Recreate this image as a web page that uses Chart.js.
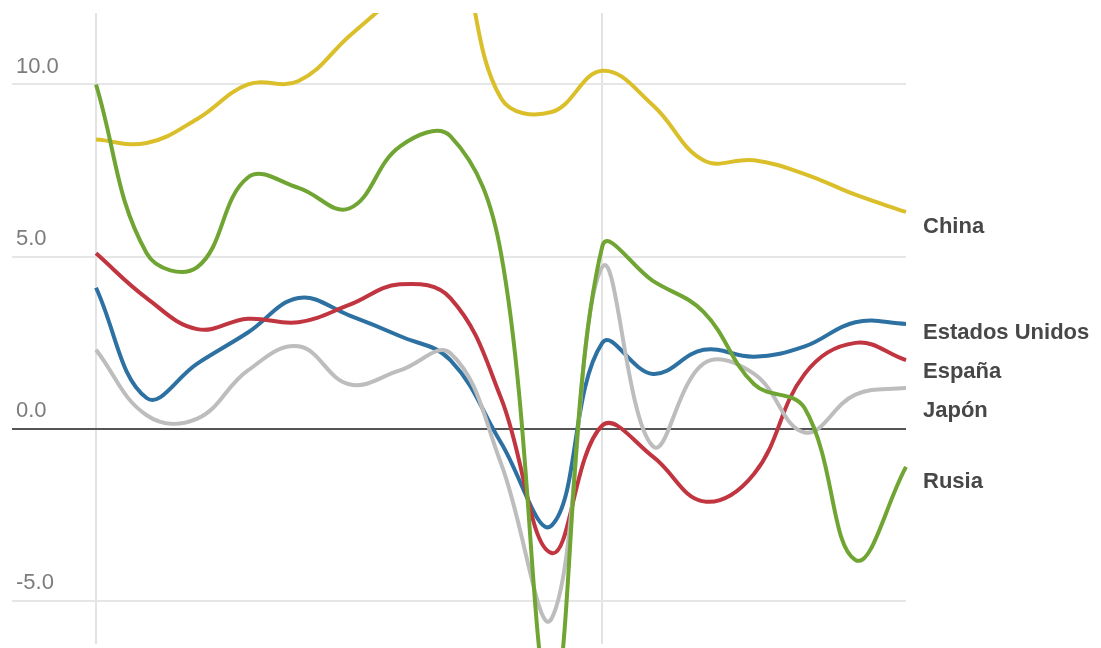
<!DOCTYPE html>
<html lang="es">
<head>
    <meta charset="UTF-8">
    <style>
        html, body { margin: 0; padding: 0; background: #fff; }
        canvas { display: block; }
    </style>
</head>

<body>
<script src="https://cdn.jsdelivr.net/npm/chart.js@4.4.1/dist/chart.umd.min.js"></script>
<canvas id="line-chart" width="1101" height="648"></canvas>
<script>

    // crecimiento del PIB (%), 2000 - 2016
    var years = [2000, 2001, 2002, 2003, 2004, 2005, 2006, 2007, 2008,
                 2009, 2010, 2011, 2012, 2013, 2014, 2015, 2016];
    var countries = ["China", "Estados Unidos", "España", "Japón", "Rusia"];
    var colors = ["#dbbf2a", "#2c71a2", "#c0353f", "#bdbdbd", "#70a533"];

    var china  = [8.4, 8.3, 9.0, 10.0, 10.1, 11.4, 12.7, 14.2, 9.6, 9.2, 10.4, 9.4, 7.8, 7.8, 7.4, 6.8, 6.3];
    var eeuu   = [4.1, 0.9, 1.9, 2.8, 3.8, 3.3, 2.7, 2.0, -0.4, -2.8, 2.5, 1.6, 2.3, 2.1, 2.4, 3.1, 3.05];
    var espana = [5.1, 3.8, 2.9, 3.2, 3.1, 3.6, 4.2, 3.8, 0.9, -3.6, 0.1, -0.8, -2.1, -1.3, 1.6, 2.5, 2.0];
    var japon  = [2.3, 0.4, 0.3, 1.7, 2.4, 1.3, 1.7, 2.2, -1.0, -5.5, 4.7, -0.5, 1.9, 1.6, -0.1, 1.0, 1.2];
    var rusia  = [10.0, 5.1, 4.7, 7.3, 7.0, 6.4, 8.2, 8.5, 5.1, -7.8, 5.3, 4.3, 3.4, 1.3, 0.6, -3.8, -1.1];

    var series = [china, eeuu, espana, japon, rusia];
    var yTicks = [-5, 0, 5, 10];
    var xGrid = [2000, 2010];

    function toPoints(values) {
        return values.map(function (v, i) { return { x: years[i], y: v }; });
    }

    // etiquetas al final de cada línea, separadas si se pisan
    var endLabels = {
        id: 'endLabels',
        afterDatasetsDraw: function (chart) {
            var ctx = chart.ctx;
            var gap = 39;
            var items = chart.data.datasets.map(function (ds, i) {
                var meta = chart.getDatasetMeta(i);
                var last = meta.data[meta.data.length - 1];
                return { text: ds.label, target: last.y + 15 };
            });
            items.sort(function (a, b) { return a.target - b.target; });

            var groups = items.map(function (it) { return { items: [it], center: it.target }; });
            var merged = true;
            while (merged) {
                merged = false;
                for (var g = 0; g < groups.length - 1; g++) {
                    var a = groups[g], b = groups[g + 1];
                    var aBottom = a.center + (a.items.length - 1) * gap / 2;
                    var bTop = b.center - (b.items.length - 1) * gap / 2;
                    if (bTop - aBottom < gap) {
                        var all = a.items.concat(b.items);
                        var sum = 0;
                        all.forEach(function (it) { sum += it.target; });
                        groups.splice(g, 2, { items: all, center: sum / all.length });
                        merged = true;
                        break;
                    }
                }
            }

            ctx.save();
            ctx.font = 'bold 22px "Liberation Sans", Arial, sans-serif';
            ctx.fillStyle = '#474747';
            ctx.textAlign = 'left';
            ctx.textBaseline = 'middle';
            groups.forEach(function (grp) {
                var start = grp.center - (grp.items.length - 1) * gap / 2;
                grp.items.forEach(function (it, k) {
                    ctx.fillText(it.text, chart.chartArea.right + 17, start + k * gap);
                });
            });
            ctx.restore();
        }
    };

    new Chart(document.getElementById("line-chart"), {
        type: 'line',
        data: {
            datasets: countries.map(function (name, i) {
                return {
                    label: name,
                    data: toPoints(series[i]),
                    borderColor: colors[i],
                    backgroundColor: colors[i],
                    borderWidth: 4,
                    pointRadius: 0,
                    tension: 0.4,
                    fill: false,
                    clip: { left: 0, top: 0, right: 3, bottom: 4 }
                };
            }).reverse()
        },
        options: {
            responsive: false,
            animation: false,
            layout: { padding: { left: 4, top: 13, right: 195, bottom: 0 } },
            plugins: {
                legend: { display: false },
                tooltip: { enabled: false }
            },
            scales: {
                x: {
                    type: 'linear',
                    min: 1998.34,
                    max: 2016,
                    afterBuildTicks: function (scale) {
                        scale.ticks = xGrid.map(function (v) { return { value: v }; });
                    },
                    ticks: { display: false },
                    border: { display: false },
                    grid: { color: '#e3e3e3', lineWidth: 2, drawTicks: false }
                },
                y: {
                    min: -6.24,
                    max: 12.075,
                    afterBuildTicks: function (scale) {
                        scale.ticks = yTicks.map(function (v) { return { value: v }; });
                    },
                    ticks: {
                        mirror: true,
                        padding: 4,
                        labelOffset: -18,
                        color: '#7c7c7c',
                        font: { family: '"Liberation Sans", Arial, sans-serif', size: 22, lineHeight: '0px' },
                        callback: function (v) { return v.toFixed(1); }
                    },
                    border: { display: false },
                    grid: {
                        drawTicks: false,
                        lineWidth: 2,
                        color: function (c) { return c.tick && c.tick.value === 0 ? '#555555' : '#e6e6e6'; }
                    }
                }
            }
        },
        plugins: [endLabels]
    });
</script>

</body>

</html>
